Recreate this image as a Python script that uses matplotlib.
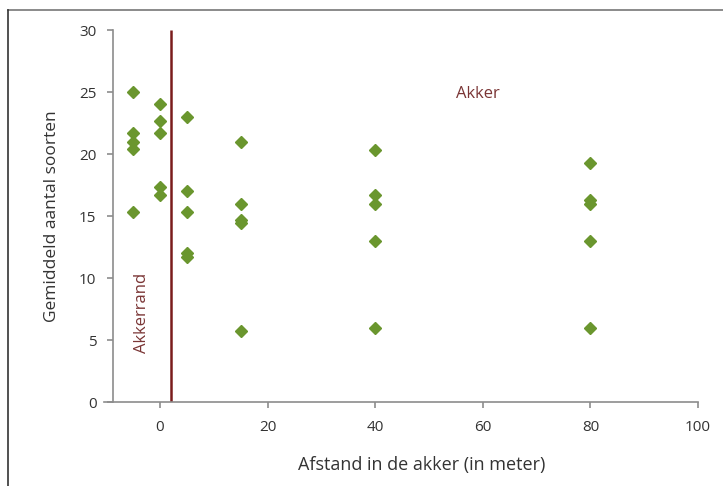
import matplotlib
matplotlib.use("Agg")
import matplotlib.pyplot as plt
from matplotlib.lines import Line2D

plt.rcParams['font.family'] = ['Open Sans', 'DejaVu Sans']

# afstand (m) en gemiddeld aantal soorten per meetpunt
afstand = [-5, -5, -5, -5, -5,
           0, 0, 0, 0, 0,
           5, 5, 5, 5, 5,
           15, 15, 15, 15, 15,
           40, 40, 40, 40, 40,
           80, 80, 80, 80, 80]
soorten = [25.0, 21.7, 21.0, 20.4, 15.3,
           24.0, 22.7, 21.7, 17.3, 16.7,
           23.0, 17.0, 15.3, 12.0, 11.7,
           21.0, 16.0, 14.7, 14.4, 5.7,
           20.3, 16.7, 16.0, 13.0, 6.0,
           19.3, 16.3, 16.0, 13.0, 6.0]
rand_x = 2
xticks = [0, 20, 40, 60, 80, 100]
yticks = [0, 5, 10, 15, 20, 25, 30]

GREEN = "#6a962e"
RED = "#7a1c1c"
GREY = "#8c8c8c"
TXT = "#333333"

fig = plt.figure(figsize=(7.23, 4.86), dpi=100)
ax = fig.add_axes([104 / 723, 1 - 402 / 486, 594 / 723, 372 / 486])

ax.plot(afstand, soorten, ls="", marker="D", ms=6, color=GREEN, mec=GREEN)
ax.plot([rand_x, rand_x], [0, 30], color=RED, lw=1.8, solid_capstyle="butt")

ax.text(59, 24.8, "Akker", color="#7a3535", fontsize=12, ha="center", va="center")
ax.text(-3.3, 7.2, "Akkerrand", color="#7a3535", fontsize=12, ha="center",
        va="center", rotation=90)

ax.set_xlim(-10.4, 100)
ax.set_ylim(0, 30)
ax.set_xticks(xticks)
ax.set_yticks(yticks)
ax.spines["left"].set_position(("data", -8.7))
for s in ("top", "right"):
    ax.spines[s].set_visible(False)
for s in ("left", "bottom"):
    ax.spines[s].set_color(GREY)
    ax.spines[s].set_linewidth(1.2)
ax.tick_params(colors=GREY, labelcolor=TXT, labelsize=11, length=4, width=1.2)
ax.tick_params(axis="x", pad=9)
ax.tick_params(axis="y", pad=8)

ax.set_xlabel("Afstand in de akker (in meter)", fontsize=13, color=TXT)
ax.xaxis.set_label_coords(0.534, -0.145)
ax.set_ylabel("Gemiddeld aantal soorten", fontsize=12.5, color=TXT, labelpad=14)

# kader om de figuur
fig.add_artist(Line2D([8 / 723, 1], [1 - 10 / 486, 1 - 10 / 486],
                      transform=fig.transFigure, color="#777777", lw=1.2))
fig.add_artist(Line2D([8 / 723, 8 / 723], [0, 1 - 10 / 486],
                      transform=fig.transFigure, color="#333333", lw=1.2))

fig.savefig("out.png", dpi=100, facecolor="white")
